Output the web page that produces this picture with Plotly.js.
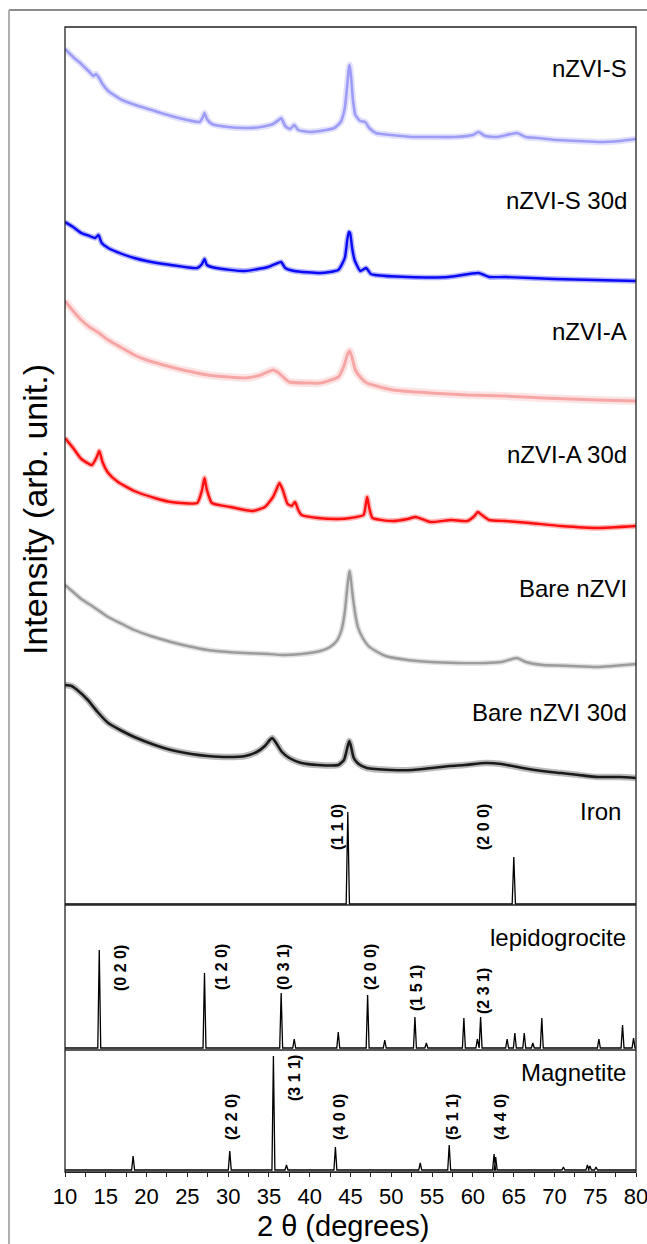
<!DOCTYPE html>
<html>
<head>
<meta charset="utf-8">
<script src="https://cdn.plot.ly/plotly-3.0.1.min.js"></script>
<style>
  html, body { margin: 0; padding: 0; background: #ffffff; }
  #chart { width: 647px; height: 1244px; }
</style>
</head>
<body>
<div id="chart"></div>
<script>
// ---------------- DATA (arbitrary units) ----------------
// Sample patterns (stacked, top panel)
const nzviS_x = [10,11,12,13,13.5,13.8,14.1,14.6,15.3,17,19,21,23,25,26.5,26.9,27.1,27.4,28,30,32.5,34,35.5,36.2,36.5,37,37.6,38.1,38.6,40,42,43,43.8,44.3,44.6,44.8,44.9,45.05,45.3,45.6,46.2,46.8,47.3,48.1,50,52.7,55,57.7,60,60.7,61.5,63,65.4,66.5,68,70.4,73,75.5,78,80];
const nzviS_y = [856,848,841,833,829,831,828,821,814,805,799,794,789,785,783,788,792,786,781,778,777,778,781,785,787,779,776,780,775,773,775,777,783,797,820,837,840,830,805,790,784,783,777,772,770,768,768,768,770,773,769,768,772,768,767,765,764,763,764,766];

const nzviS30_x = [10,11,12,13,13.7,14.1,14.5,15.3,17,18.5,20,23,26.2,26.8,27.1,27.4,28.5,32,34.9,36.1,36.5,37,38.1,41.3,43.5,44.3,44.6,44.8,44.95,45.2,45.5,46.2,46.9,47.5,48,52,57,60.7,62,64,70,75,80];
const nzviS30_y = [683,678,672,669,667,670,662,657,651,647,644,640,637,641,646,640,637,634,638,642,643,637,634,632,635,647,665,673,672,657,645,634,637,631,630,628,628,632,628,628,626,625,624];

const nzviA_x = [10,11,12,13,14,15.3,17,18.5,20,23,25,27.5,30,32.1,34,35.5,36.2,37.5,40,41.3,43.5,44.2,44.6,44.9,45.2,45.6,46.3,47,50.2,54.8,59.3,64,68.6,75.3,80];
const nzviA_y = [604,594,585,578,573,565,557,550,545,538,534,530,528,527,530,535,532,523,522,522,528,539,550,554,547,535,527,522,515,512,510,509,507,505,504];

const nzviA30_x = [10,11,12,13.3,13.9,14.2,14.6,15.3,16.5,18.5,21,23,26.2,26.8,27.1,27.4,28,30.3,33,34.5,35.5,36.1,36.3,36.7,37.3,37.8,38.2,38.6,39,41,43.5,45,46.6,46.9,47.05,47.3,47.7,50.2,52,53,54.8,57.3,59.3,60.2,60.6,61.1,62,64,67,70.8,75.3,80];
const nzviA30_y = [467,457,446,440,448,454,443,432,423,414,407,403,402,415,427,415,402,398,394,398,408,419,422,415,401,399,403,395,390,387,386,387,390,402,408,397,387,384,386,388,383,385,384,389,393,390,385,384,382,379,377,379];

const bare_x = [10,11,12,13.5,15.3,17,18.5,20.5,23,25,27.5,30,32.1,35,36.6,39,41.3,42.5,43.3,43.9,44.3,44.6,44.8,44.9,45.05,45.3,45.6,45.9,46.5,47.2,48.3,49.3,52,54.8,58,61.6,63.5,65.4,66.5,68.6,72,75.3,80];
const bare_y = [320,313,306,298,288,281,275,269,263,259,255,253,252,251,250,251,254,258,264,275,293,317,330,334,325,307,290,278,267,259,253,249,245,243,242,242,243,247,243,240,239,238,241];

const bare30_x = [10,10.8,11.5,12.8,14,15.3,17,18.5,21,23,25.5,27.5,30,32.1,33.5,34.5,35.1,35.4,35.8,36.6,37.5,39,41,43.5,44.2,44.6,44.85,45.05,45.4,46,47,50,52.6,55,57.2,59,61.6,63.5,66.1,68.5,70.8,73,75.3,78,80];
const bare30_y = [220,219,215,205,193,182,174,168,160,155,151,149,148,149,153,159,165,167,163,153,147,142,140,140,145,157,164,159,147,141,137,135,135,137,139,140,142,141,137,134,132,130,128,128,127];

// Reference patterns: peak positions (2θ) and peak heights above baseline
const ironBase = 1;
const ironPeaks = [44.67, 65.02];
const ironHeights = [92, 47];
const ironLabels = ["(1 1 0)", "(2 0 0)"];

const lepiBase = 2;
const lepiPeaks = [14.2, 27.1, 36.5, 38.1, 43.5, 47.1, 49.2, 52.9, 54.3, 58.9, 60.55, 60.95, 64.2, 65.15, 66.3, 67.35, 68.45, 75.45, 78.35, 79.7];
const lepiHeights = [98, 75, 55, 9, 16, 53, 8, 31, 5, 30, 9, 31, 9, 15, 15, 5, 30, 9, 23, 10];
const lepiLabels = ["(0 2 0)", "(1 2 0)", "(0 3 1)", "(2 0 0)", "(1 5 1)", "(2 3 1)"];

const magBase = 2;
const magPeaks = [18.35, 30.2, 35.55, 37.15, 43.15, 53.55, 57.1, 62.6, 62.8, 71.1, 74.05, 74.35, 75.1];
const magHeights = [14, 19, 114, 5, 23, 7, 25, 16, 13, 3, 5, 4, 3];
const magLabels = ["(2 2 0)", "(3 1 1)", "(4 0 0)", "(5 1 1)", "(4 4 0)"];

const sampleNames = ["nZVI-S", "nZVI-S 30d", "nZVI-A", "nZVI-A 30d", "Bare nZVI", "Bare nZVI 30d"];
const refNames = ["Iron", "lepidogrocite", "Magnetite"];
const xTicks = [10, 15, 20, 25, 30, 35, 40, 45, 50, 55, 60, 65, 70, 75, 80];

// ---------------- LAYOUT GEOMETRY (pixels) ----------------
const W = 647, H = 1244;
const PL = 65, PR = 636, PT = 27, PB = 1172;
const PW = PR - PL, PH = PB - PT;
const yDiv1 = 905, yDiv2 = 1050;
const px2paperX = p => (p - PL) / PW;
const px2paperY = p => (PB - p) / PH;
const dTop = [px2paperY(yDiv1), 1];
const dLep = [px2paperY(yDiv2), px2paperY(yDiv1)];
const dMag = [0, px2paperY(yDiv2)];

// stick-like profile for reference patterns
function stickSeries(peaks, heights, base, hw) {
  const xs = [10], ys = [base];
  peaks.forEach((p, i) => {
    xs.push(p - hw, p, p + hw);
    ys.push(base, base + heights[i], base);
  });
  xs.push(80); ys.push(base);
  return {x: xs, y: ys};
}

const FONT = "Arial, 'Liberation Sans', Helvetica, sans-serif";

const samples = [
  {x: nzviS_x, y: nzviS_y, color: "#9d9df7", w: 2.6, halo: 6.5},
  {x: nzviS30_x, y: nzviS30_y, color: "#0a0af5", w: 2.4, halo: 5.5},
  {x: nzviA_x, y: nzviA_y, color: "#f7a6a6", w: 3.0, halo: 8},
  {x: nzviA30_x, y: nzviA30_y, color: "#ff1010", w: 2.4, halo: 5.5},
  {x: bare_x, y: bare_y, color: "#9c9c9c", w: 2.4, halo: 5.5},
  {x: bare30_x, y: bare30_y, color: "#1a1a1a", w: 2.6, halo: 6.5}
];

const traces = [];
samples.forEach((s, i) => {
  // soft underlay imitating the noise band of the measured pattern
  traces.push({
    type: "scatter", mode: "lines", x: s.x, y: s.y, xaxis: "x", yaxis: "y",
    line: {color: s.color, width: s.halo, shape: "spline", smoothing: 0.5},
    opacity: 0.3, hoverinfo: "skip", showlegend: false
  });
  traces.push({
    type: "scatter", mode: "lines", x: s.x, y: s.y, name: sampleNames[i],
    xaxis: "x", yaxis: "y",
    line: {color: s.color, width: s.w, shape: "spline", smoothing: 0.5},
    hoverinfo: "skip", showlegend: false
  });
});

const iron = stickSeries(ironPeaks, ironHeights, ironBase, 0.2);
const lepi = stickSeries(lepiPeaks, lepiHeights, lepiBase, 0.18);
const mag = stickSeries(magPeaks, magHeights, magBase, 0.18);
traces.push({type: "scatter", mode: "lines", x: iron.x, y: iron.y, xaxis: "x", yaxis: "y",
  line: {color: "#000", width: 1.3}, showlegend: false, hoverinfo: "skip"});
traces.push({type: "scatter", mode: "lines", x: lepi.x, y: lepi.y, xaxis: "x", yaxis: "y2",
  line: {color: "#000", width: 1.3}, showlegend: false, hoverinfo: "skip"});
traces.push({type: "scatter", mode: "lines", x: mag.x, y: mag.y, xaxis: "x", yaxis: "y3",
  line: {color: "#000", width: 1.3}, showlegend: false, hoverinfo: "skip"});

// ---------------- ANNOTATIONS ----------------
const annotations = [];
const namePos = [68, 201, 331, 455, 588, 712];
sampleNames.forEach((n, i) => annotations.push({
  text: n, xref: "paper", yref: "paper", x: px2paperX(629), y: px2paperY(namePos[i]),
  xanchor: "right", yanchor: "middle", showarrow: false,
  font: {family: FONT, size: 24, color: "#000"}
}));
const refPos = [[623, 812], [628, 937], [628, 1072]];
refNames.forEach((n, i) => annotations.push({
  text: n, xref: "paper", yref: "paper", x: px2paperX(refPos[i][0]), y: px2paperY(refPos[i][1]),
  xanchor: "right", yanchor: "middle", showarrow: false,
  font: {family: FONT, size: 24, color: "#000"}
}));

function hkl(text, xData, yPx) {
  annotations.push({
    text: "<b>" + text + "</b>", xref: "x", yref: "paper", x: xData, y: px2paperY(yPx),
    xanchor: "center", yanchor: "middle", textangle: -90, showarrow: false,
    font: {family: FONT, size: 16, color: "#000"}
  });
}
hkl(ironLabels[0], 43.35, 827);
hkl(ironLabels[1], 61.24, 827);
hkl(lepiLabels[0], 16.74, 968);
hkl(lepiLabels[1], 29.12, 967);
hkl(lepiLabels[2], 36.73, 967);
hkl(lepiLabels[3], 47.39, 967);
hkl(lepiLabels[4], 53.03, 988);
hkl(lepiLabels[5], 61.24, 991);
hkl(magLabels[0], 30.35, 1117);
hkl(magLabels[1], 38.07, 1078);
hkl(magLabels[2], 43.59, 1117);
hkl(magLabels[3], 57.44, 1117);
hkl(magLabels[4], 63.33, 1117);

// axis titles
annotations.push({
  text: "2 θ (degrees)", xref: "paper", yref: "paper", x: px2paperX(343), y: px2paperY(1226),
  xanchor: "center", yanchor: "middle", showarrow: false,
  font: {family: FONT, size: 29, color: "#000"}
});
annotations.push({
  text: "Intensity (arb. unit.)", xref: "paper", yref: "paper", x: px2paperX(35), y: px2paperY(510),
  xanchor: "center", yanchor: "middle", textangle: -90, showarrow: false,
  font: {family: FONT, size: 34, color: "#000"}
});

// ---------------- SHAPES ----------------
const shapes = [
  {type: "rect", xref: "paper", yref: "paper", x0: 0, x1: 1, y0: 0, y1: 1,
   line: {color: "#222", width: 1.3}},
  {type: "line", xref: "paper", yref: "paper", x0: 0, x1: 1, y0: dTop[0], y1: dTop[0],
   line: {color: "#222", width: 1.3}},
  {type: "line", xref: "paper", yref: "paper", x0: 0, x1: 1, y0: dLep[0], y1: dLep[0],
   line: {color: "#222", width: 1.3}},
  // outer image frame (grey)
  {type: "line", xref: "paper", yref: "paper", x0: px2paperX(9), x1: px2paperX(647), y0: px2paperY(10), y1: px2paperY(10),
   line: {color: "#8c8c8c", width: 2}},
  {type: "line", xref: "paper", yref: "paper", x0: px2paperX(9), x1: px2paperX(9), y0: px2paperY(10), y1: px2paperY(1244),
   line: {color: "#b0b0b0", width: 2}}
];

const hiddenY = {showticklabels: false, showgrid: false, zeroline: false, ticks: "", showline: false, fixedrange: true};

const layout = {
  width: W, height: H,
  margin: {l: PL, r: W - PR, t: PT, b: H - PB, pad: 0},
  paper_bgcolor: "#ffffff", plot_bgcolor: "#ffffff",
  showlegend: false,
  font: {family: FONT, color: "#000"},
  xaxis: {
    range: [10, 80], domain: [0, 1], anchor: "y3",
    tickmode: "array", tickvals: xTicks, ticktext: xTicks.map(String),
    ticks: "outside", ticklen: 4, tickwidth: 1, tickcolor: "#222",
    minor: {ticks: "outside", ticklen: 4, tickwidth: 1, tickcolor: "#222", dtick: 2.5, tick0: 10, showgrid: false},
    showline: true, linecolor: "#222", linewidth: 1.3,
    showgrid: false, zeroline: false,
    ticklabeloverflow: "allow",
    tickfont: {family: FONT, size: 22, color: "#000"}
  },
  yaxis: Object.assign({domain: dTop, range: [0, yDiv1 - PT]}, hiddenY),
  yaxis2: Object.assign({domain: dLep, range: [0, yDiv2 - yDiv1]}, hiddenY),
  yaxis3: Object.assign({domain: dMag, range: [0, PB - yDiv2]}, hiddenY),
  annotations: annotations,
  shapes: shapes
};

Plotly.newPlot("chart", traces, layout, {displayModeBar: false, staticPlot: true});
</script>
</body>
</html>
